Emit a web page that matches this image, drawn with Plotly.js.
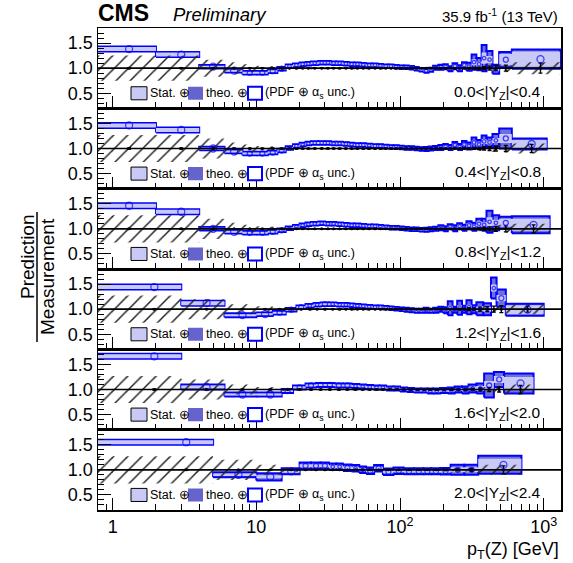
<!DOCTYPE html>
<html><head><meta charset="utf-8">
<script src="https://cdn.plot.ly/plotly-3.0.1.min.js"></script>
<style>html,body{margin:0;padding:0;background:#fff}#chart{width:573px;height:563px}</style>
</head><body><div id="chart"></div>
<script>
// ---------------- DATA ----------------
const panelLabels = ['0.0<|Y<sub>Z</sub>|<0.4','0.4<|Y<sub>Z</sub>|<0.8','0.8<|Y<sub>Z</sub>|<1.2','1.2<|Y<sub>Z</sub>|<1.6','1.6<|Y<sub>Z</sub>|<2.0','2.0<|Y<sub>Z</sub>|<2.4'];
const xTickVals = [1,10,100,1000];
const xTickText = ['1','10','10<sup>2</sup>','10<sup>3</sup>'];
const yTickVals = [0.5,1.0,1.5];
const yTickText = ['0.5','1.0','1.5'];

// panel 1: 0.0<|Y|<0.4
const edges1 = [0,2,4,6,8,10,12,14,16,18,20,22,24,27,30,33,36,40,44,48,53,58,64,70,76,83,90,98,106,115,125,135,146,158,170,185,200,215,232,250,270,290,315,340,370,400,440,490,600,1300];
const pred1 = [1.38,1.27,1.03,0.95,0.91,0.91,0.94,0.99,1.04,1.06, 1.08,1.09,1.10,1.11,1.11,1.10,1.10,1.09,1.08,1.08, 1.07,1.06,1.06,1.05,1.04,1.04,1.03,1.02,1.02,1.01, 0.99,0.97,0.95,0.97,1.01,1.02,1.03,0.99,1.04,1.00, 1.06,1.03,1.12,1.08,1.20,1.17,0.98,1.17,1.18];
const tot1 = [0.05,0.05,0.035,0.035,0.035,0.035,0.035,0.035,0.035,0.035, 0.035,0.035,0.035,0.035,0.035,0.035,0.035,0.035,0.035,0.035, 0.035,0.035,0.035,0.035,0.035,0.035,0.035,0.035,0.035,0.035, 0.035,0.035,0.04,0.04,0.04,0.05,0.05,0.05,0.06,0.06, 0.06,0.08,0.15,0.12,0.26,0.17,0.09,0.15,0.19];
const stat1 = [0.04,0.04,0.02,0.02,0.02,0.02,0.02,0.02,0.02,0.02, 0.02,0.02,0.02,0.02,0.02,0.02,0.02,0.02,0.02,0.02, 0.02,0.02,0.02,0.02,0.02,0.02,0.02,0.02,0.02,0.02, 0.02,0.02,0.02,0.02,0.02,0.025,0.025,0.025,0.03,0.03, 0.03,0.04,0.06,0.05,0.11,0.07,0.04,0.11,0.15];
const meas1 = [0.25,0.25,0.17,0.12,0.08,0.05,0.04,0.03,0.02,0.015, 0.012,0.01,0.01,0.01,0.01,0.01,0.01,0.01,0.01,0.01, 0.01,0.01,0.01,0.01,0.01,0.01,0.01,0.01,0.012,0.012, 0.012,0.014,0.015,0.015,0.017,0.02,0.02,0.022,0.025,0.028, 0.03,0.035,0.04,0.045,0.05,0.06,0.07,0.08,0.12];
const dstat1 = [0.01,0.01,0.005,0.005,0.005,0.005,0.005,0.005,0.005,0.005, 0.005,0.005,0.005,0.005,0.005,0.005,0.005,0.005,0.005,0.005, 0.005,0.005,0.005,0.005,0.005,0.005,0.005,0.005,0.005,0.005, 0.005,0.005,0.005,0.005,0.005,0.005,0.005,0.005,0.005,0.005, 0.01,0.01,0.015,0.02,0.03,0.04,0.05,0.06,0.1];

// panel 2: 0.4<|Y|<0.8
const edges2 = [0,2,4,6,8,10,12,14,16,18,20,22,24,27,30,33,36,40,44,48,53,58,64,70,76,83,90,98,106,115,125,135,146,158,170,185,200,215,232,250,270,290,315,340,370,400,440,490,600,1050];
const pred2 = [1.46,1.37,1.00,0.94,0.90,0.90,0.92,0.96,1.01,1.05, 1.08,1.10,1.11,1.11,1.11,1.10,1.10,1.09,1.08,1.07, 1.07,1.06,1.05,1.05,1.04,1.03,1.03,1.02,1.01,1.01, 1.00,0.99,0.99,1.00,1.01,1.02,1.04,1.02,1.07,1.03, 1.08,1.05,1.12,1.08,1.14,1.12,1.16,1.20,1.09];
const tot2 = [0.05,0.05,0.035,0.035,0.035,0.035,0.035,0.035,0.035,0.035, 0.035,0.035,0.035,0.035,0.035,0.035,0.035,0.035,0.035,0.035, 0.035,0.035,0.035,0.035,0.035,0.035,0.035,0.035,0.035,0.035, 0.035,0.035,0.04,0.04,0.04,0.05,0.05,0.05,0.06,0.06, 0.07,0.07,0.1,0.09,0.12,0.1,0.13,0.2,0.11];
const stat2 = [0.04,0.04,0.02,0.02,0.02,0.02,0.02,0.02,0.02,0.02, 0.02,0.02,0.02,0.02,0.02,0.02,0.02,0.02,0.02,0.02, 0.02,0.02,0.02,0.02,0.02,0.02,0.02,0.02,0.02,0.02, 0.02,0.02,0.02,0.02,0.02,0.025,0.025,0.025,0.03,0.03, 0.03,0.03,0.04,0.04,0.05,0.04,0.05,0.09,0.08];
const meas2 = [0.27,0.27,0.2,0.12,0.08,0.05,0.04,0.03,0.02,0.015, 0.012,0.01,0.01,0.01,0.01,0.01,0.01,0.01,0.01,0.01, 0.01,0.01,0.01,0.01,0.01,0.01,0.01,0.01,0.012,0.012, 0.012,0.014,0.015,0.015,0.017,0.02,0.02,0.022,0.025,0.028, 0.03,0.035,0.04,0.045,0.05,0.06,0.07,0.08,0.1];
const dstat2 = [0.01,0.01,0.005,0.005,0.005,0.005,0.005,0.005,0.005,0.005, 0.005,0.005,0.005,0.005,0.005,0.005,0.005,0.005,0.005,0.005, 0.005,0.005,0.005,0.005,0.005,0.005,0.005,0.005,0.005,0.005, 0.005,0.005,0.005,0.005,0.005,0.005,0.005,0.005,0.005,0.005, 0.01,0.01,0.015,0.02,0.03,0.04,0.05,0.06,0.08];

// panel 3: 0.8<|Y|<1.2
const edges3 = [0,2,4,6,8,10,12,14,16,18,20,22,24,27,30,33,36,40,44,48,53,58,64,70,76,83,90,98,106,115,125,135,146,158,170,185,200,215,232,250,270,290,315,340,370,400,440,490,600,1100];
const pred3 = [1.46,1.34,1.00,0.94,0.92,0.92,0.94,0.97,1.01,1.04, 1.07,1.09,1.10,1.11,1.10,1.10,1.09,1.08,1.07,1.07, 1.06,1.05,1.05,1.04,1.03,1.02,1.02,1.01,1.00,0.99, 0.99,0.98,0.98,0.99,1.00,1.02,1.00,1.04,1.01,1.05, 1.02,1.07,1.04,1.10,1.08,1.14,1.12,1.12,1.08];
const tot3 = [0.05,0.05,0.035,0.035,0.035,0.035,0.035,0.035,0.035,0.035, 0.035,0.035,0.035,0.035,0.035,0.035,0.035,0.035,0.035,0.035, 0.035,0.035,0.035,0.035,0.035,0.035,0.035,0.035,0.035,0.035, 0.035,0.035,0.04,0.04,0.04,0.05,0.05,0.05,0.06,0.06, 0.06,0.08,0.08,0.1,0.12,0.22,0.15,0.12,0.17];
const stat3 = [0.04,0.04,0.02,0.02,0.02,0.02,0.02,0.02,0.02,0.02, 0.02,0.02,0.02,0.02,0.02,0.02,0.02,0.02,0.02,0.02, 0.02,0.02,0.02,0.02,0.02,0.02,0.02,0.02,0.02,0.02, 0.02,0.02,0.02,0.02,0.02,0.025,0.025,0.025,0.03,0.03, 0.03,0.04,0.04,0.05,0.05,0.09,0.06,0.08,0.12];
const meas3 = [0.27,0.27,0.2,0.12,0.08,0.05,0.04,0.03,0.02,0.015, 0.012,0.01,0.01,0.01,0.01,0.01,0.01,0.01,0.01,0.01, 0.01,0.01,0.01,0.01,0.01,0.01,0.01,0.01,0.012,0.012, 0.012,0.014,0.015,0.015,0.017,0.02,0.02,0.022,0.025,0.028, 0.03,0.035,0.04,0.045,0.05,0.06,0.07,0.08,0.1];
const dstat3 = [0.01,0.01,0.005,0.005,0.005,0.005,0.005,0.005,0.005,0.005, 0.005,0.005,0.005,0.005,0.005,0.005,0.005,0.005,0.005,0.005, 0.005,0.005,0.005,0.005,0.005,0.005,0.005,0.005,0.005,0.005, 0.005,0.005,0.005,0.005,0.005,0.005,0.005,0.005,0.005,0.005, 0.01,0.01,0.015,0.02,0.03,0.04,0.05,0.06,0.08];

// panel 4: 1.2<|Y|<1.6
const edges4 = [0,3,6,10,13,16,19,22,25,28,32,36,40,44,48,53,58,64,70,76,83,90,98,106,115,125,135,146,158,170,185,200,215,232,250,270,290,315,340,380,430,470,545,1000];
const pred4 = [1.44,1.12,0.88,0.90,0.93,0.99,1.04,1.07,1.09,1.10, 1.10,1.09,1.09,1.08,1.07,1.06,1.05,1.04,1.04,1.03, 1.02,1.01,1.00,0.99,0.98,0.97,0.97,0.98,0.97,0.98, 1.00,0.98,1.02,0.99,1.03,1.00,1.04,1.00,1.01,1.00, 1.42,1.22,0.99];
const tot4 = [0.05,0.05,0.04,0.035,0.035,0.035,0.035,0.035,0.035,0.035, 0.035,0.035,0.035,0.035,0.035,0.035,0.035,0.035,0.035,0.035, 0.035,0.035,0.035,0.04,0.04,0.04,0.04,0.05,0.04,0.05, 0.05,0.06,0.14,0.06,0.14,0.07,0.14,0.08,0.13,0.12, 0.21,0.17,0.12];
const stat4 = [0.04,0.04,0.02,0.02,0.02,0.02,0.02,0.02,0.02,0.02, 0.02,0.02,0.02,0.02,0.02,0.02,0.02,0.02,0.02,0.02, 0.02,0.02,0.02,0.02,0.02,0.02,0.02,0.025,0.02,0.025, 0.025,0.03,0.05,0.03,0.05,0.03,0.05,0.04,0.05,0.05, 0.07,0.06,0.09];
const meas4 = [0.27,0.2,0.1,0.06,0.04,0.025,0.015,0.012,0.01,0.01, 0.01,0.01,0.01,0.01,0.01,0.01,0.01,0.01,0.01,0.01, 0.01,0.01,0.012,0.012,0.012,0.014,0.015,0.015,0.017,0.02, 0.02,0.022,0.025,0.028,0.03,0.035,0.04,0.045,0.05,0.06, 0.07,0.08,0.1];
const dstat4 = [0.01,0.005,0.005,0.005,0.005,0.005,0.005,0.005,0.005,0.005, 0.005,0.005,0.005,0.005,0.005,0.005,0.005,0.005,0.005,0.005, 0.005,0.005,0.005,0.005,0.005,0.005,0.005,0.005,0.005,0.005, 0.005,0.005,0.01,0.01,0.015,0.02,0.03,0.03,0.04,0.05, 0.06,0.07,0.06];

// panel 5: 1.6<|Y|<2.0
const edges5 = [0,3,6,10,15,18,22,26,30,35,40,46,52,58,65,72,80,90,100,112,125,140,155,170,190,215,240,270,300,340,385,450,530,850];
const pred5 = [1.66,1.05,0.90,0.90,0.97,1.04,1.08,1.09,1.09,1.08, 1.08,1.07,1.06,1.05,1.04,1.04,1.02,1.02,1.00,0.99, 0.98,0.98,0.97,0.97,0.98,0.98,1.00,0.99,1.02,1.02, 1.08,1.20,1.12];
const tot5 = [0.05,0.05,0.04,0.04,0.04,0.04,0.04,0.04,0.04,0.04, 0.04,0.04,0.04,0.04,0.04,0.04,0.04,0.04,0.04,0.04, 0.04,0.04,0.05,0.05,0.05,0.06,0.06,0.07,0.08,0.1, 0.24,0.15,0.2];
const stat5 = [0.04,0.03,0.02,0.02,0.02,0.02,0.02,0.02,0.02,0.02, 0.02,0.02,0.02,0.02,0.02,0.02,0.02,0.02,0.02,0.02, 0.02,0.02,0.025,0.025,0.025,0.03,0.03,0.03,0.04,0.05, 0.09,0.07,0.13];
const meas5 = [0.27,0.2,0.1,0.05,0.03,0.02,0.012,0.01,0.01,0.01, 0.01,0.01,0.01,0.01,0.01,0.01,0.01,0.012,0.012,0.014, 0.015,0.015,0.017,0.02,0.02,0.022,0.025,0.03,0.035,0.04, 0.05,0.07,0.1];
const dstat5 = [0.01,0.005,0.005,0.005,0.005,0.005,0.005,0.005,0.005,0.005, 0.005,0.005,0.005,0.005,0.005,0.005,0.005,0.005,0.005,0.005, 0.005,0.005,0.005,0.01,0.01,0.01,0.015,0.02,0.02,0.03, 0.04,0.05,0.08];

// panel 6: 2.0<|Y|<2.4
const edges6 = [0,5,10,15,20,24,28,32,36,40,46,52,58,66,76,90,106,125,145,165,190,225,280,350,700];
const pred6 = [1.55,0.90,0.86,0.97,1.08,1.08,1.08,1.06,1.06,1.04,1.03,1.00,0.98,1.03,0.96,0.98,0.97,0.97,0.97,0.97,0.97,1.00,1.00,1.10];
const tot6 = [0.05,0.05,0.07,0.06,0.065,0.065,0.065,0.065,0.065,0.065,0.065,0.065,0.065,0.065,0.065,0.065,0.06,0.06,0.06,0.06,0.065,0.1,0.1,0.18];
const stat6 = [0.04,0.025,0.03,0.03,0.03,0.03,0.03,0.03,0.03,0.03,0.03,0.03,0.03,0.03,0.03,0.03,0.03,0.03,0.03,0.03,0.03,0.05,0.05,0.12];
const meas6 = [0.27,0.2,0.1,0.04,0.02,0.015,0.012,0.01,0.01,0.01,0.01,0.01,0.012,0.012,0.014,0.015,0.015,0.017,0.02,0.022,0.025,0.03,0.04,0.1];
const dstat6 = [0.01,0.005,0.005,0.005,0.005,0.005,0.005,0.005,0.005,0.005,0.005,0.005,0.005,0.005,0.005,0.005,0.005,0.01,0.01,0.01,0.015,0.02,0.03,0.08];

const panels = [
  {edges: edges1, pred: pred1, tot: tot1, stat: stat1, meas: meas1, dstat: dstat1},
  {edges: edges2, pred: pred2, tot: tot2, stat: stat2, meas: meas2, dstat: dstat2},
  {edges: edges3, pred: pred3, tot: tot3, stat: stat3, meas: meas3, dstat: dstat3},
  {edges: edges4, pred: pred4, tot: tot4, stat: stat4, meas: meas4, dstat: dstat4},
  {edges: edges5, pred: pred5, tot: tot5, stat: stat5, meas: meas5, dstat: dstat5},
  {edges: edges6, pred: pred6, tot: tot6, stat: stat6, meas: meas6, dstat: dstat6}
];

// ---------------- DRAWING ----------------
const W = 573, H = 563, L = 98, R = 561, T = 28, B = 510;
const px = x => (x - L) / (R - L);
const py = y => 1 - (y - T) / (B - T);
const FONT = 'Liberation Sans, Arial, Helvetica, sans-serif';
const lo = e => (e === 0 ? 0.5 : e);

const BLUE = '#0000ff', DARK = '#7070d6', LIGHT = '#c9c9f6';
const xmin = Math.log10(0.79), xmax = Math.log10(1320);
const pxPerDecade = (R - L) / (xmax - xmin);

function rects(edges, c, h) {
  const xs = [], ys = [];
  for (let j = 0; j < c.length; j++) {
    const x0 = lo(edges[j]), x1 = edges[j + 1];
    xs.push(x0, x1, x1, x0, x0, null);
    ys.push(c[j] - h[j], c[j] - h[j], c[j] + h[j], c[j] + h[j], c[j] - h[j], null);
  }
  return {xs, ys};
}
function band(edges, m) {
  const xs = [], ys = [];
  for (let j = 0; j < m.length; j++) { xs.push(lo(edges[j]), edges[j + 1]); ys.push(1 + m[j], 1 + m[j]); }
  for (let j = m.length - 1; j >= 0; j--) { xs.push(edges[j + 1], lo(edges[j])); ys.push(1 - m[j], 1 - m[j]); }
  xs.push(xs[0]); ys.push(ys[0]);
  return {xs, ys};
}
function centers(edges, n) {
  const out = [];
  for (let j = 0; j < n; j++) out.push(edges[j] === 0 ? edges[j + 1] * 0.65 : (edges[j] + edges[j + 1]) / 2);
  return out;
}
function markerSizes(edges, n) {
  const out = [];
  for (let j = 0; j < n; j++) {
    const w = edges[j] === 0 ? 99 : pxPerDecade * Math.log10(edges[j + 1] / edges[j]);
    out.push(w > 14 ? 7 : (w > 8 ? 5 : 3.5));
  }
  return out;
}

const traces = [];
const layout = {
  width: W, height: H,
  margin: {l: L, r: W - R, t: T, b: H - B},
  paper_bgcolor: '#fff', plot_bgcolor: '#fff',
  showlegend: false,
  font: {family: FONT, color: '#000'},
  shapes: [], annotations: []
};
const minorX = [0.8,0.9,2,3,4,5,6,7,8,9,20,30,40,50,60,70,80,90,200,300,400,500,600,700,800,900];

panels.forEach((p, i) => {
  const k = i + 1;
  const xa = 'x' + k, ya = 'y' + k;
  const o = rects(p.edges, p.pred, p.tot);
  const s = rects(p.edges, p.pred, p.stat);
  const b = band(p.edges, p.meas);
  const xc = centers(p.edges, p.pred.length);
  const ms = markerSizes(p.edges, p.pred.length);
  const ones = p.pred.map(() => 1);
  traces.push({type: 'scatter', mode: 'lines', x: o.xs, y: o.ys, xaxis: xa, yaxis: ya, fill: 'toself',
    fillcolor: DARK, line: {color: BLUE, width: 2}, hoverinfo: 'skip', connectgaps: false});
  traces.push({type: 'scatter', mode: 'lines', x: s.xs, y: s.ys, xaxis: xa, yaxis: ya, fill: 'toself',
    fillcolor: LIGHT, line: {width: 0, color: LIGHT}, hoverinfo: 'skip', connectgaps: false});
  traces.push({type: 'scatter', mode: 'lines', x: b.xs, y: b.ys, xaxis: xa, yaxis: ya, fill: 'toself',
    fillcolor: 'rgba(0,0,0,0)', line: {width: 0, color: 'rgba(0,0,0,0)'},
    fillpattern: {shape: '/', fgcolor: '#222', bgcolor: 'rgba(0,0,0,0)', size: 10, solidity: 0.15},
    hoverinfo: 'skip'});
  traces.push({type: 'scatter', mode: 'markers', x: xc, y: ones, xaxis: xa, yaxis: ya,
    marker: {color: '#000', size: 3},
    error_y: {type: 'data', array: p.dstat, visible: true, color: '#000', thickness: 1.3, width: 2},
    hoverinfo: 'skip'});
  traces.push({type: 'scatter', mode: 'markers', x: xc, y: p.pred, xaxis: xa, yaxis: ya,
    marker: {symbol: 'circle-open', color: BLUE, size: ms, line: {width: 1.3, color: BLUE}},
    hoverinfo: 'skip'});

  const d0 = 1 - k / 6, d1 = 1 - (k - 1) / 6;
  layout['xaxis' + k] = {
    type: 'log', range: [xmin, xmax], anchor: ya, domain: [0, 1],
    tickvals: xTickVals, ticktext: xTickText, showticklabels: k === 6,
    ticks: 'inside', ticklen: 12, tickwidth: 1, tickcolor: '#000',
    minor: {ticks: 'inside', ticklen: 6, tickwidth: 1, tickcolor: '#000', tickmode: 'array', tickvals: minorX},
    showgrid: false, zeroline: false, showline: true, linecolor: '#000', linewidth: 1.5, mirror: true,
    tickfont: {family: FONT, size: 18, color: '#000'}
  };
  layout['yaxis' + k] = {
    range: [0.2, 1.8], anchor: xa, domain: [d0, d1],
    tickvals: yTickVals, ticktext: yTickText,
    ticks: 'inside', ticklen: 13, tickwidth: 1, tickcolor: '#000',
    minor: {ticks: 'inside', ticklen: 6, tickwidth: 1, tickcolor: '#000', dtick: 0.1, tick0: 0},
    showgrid: false, zeroline: false, showline: true, linecolor: '#000', linewidth: 1.5, mirror: true,
    tickfont: {family: FONT, size: 18, color: '#000'}
  };
  layout.shapes.push({type: 'line', xref: 'paper', yref: ya, x0: 0, x1: 1, y0: 1, y1: 1,
    line: {color: '#000', width: 1.6}, layer: 'above'});
  layout.shapes.push({type: 'rect', xref: 'paper', yref: ya, x0: px(131), x1: px(147), y0: 0.37, y1: 0.63,
    fillcolor: LIGHT, line: {color: '#000', width: 1}});
  layout.shapes.push({type: 'rect', xref: 'paper', yref: ya, x0: px(188), x1: px(203), y0: 0.37, y1: 0.63,
    fillcolor: '#6464cc', line: {width: 0}});
  layout.shapes.push({type: 'rect', xref: 'paper', yref: ya, x0: px(248), x1: px(262), y0: 0.37, y1: 0.63,
    fillcolor: '#fff', line: {color: BLUE, width: 2}});
  const lf = {family: FONT, size: 12.5, color: '#000'};
  layout.annotations.push({xref: 'paper', yref: ya, x: px(148), y: 0.5, xanchor: 'left', yanchor: 'middle',
    text: 'Stat. ⊕', showarrow: false, font: lf});
  layout.annotations.push({xref: 'paper', yref: ya, x: px(204), y: 0.5, xanchor: 'left', yanchor: 'middle',
    text: 'theo. ⊕', showarrow: false, font: lf});
  layout.annotations.push({xref: 'paper', yref: ya, x: px(263), y: 0.5, xanchor: 'left', yanchor: 'middle',
    text: '(PDF ⊕ α<sub>s</sub> unc.)', showarrow: false, font: lf});
  layout.annotations.push({xref: 'paper', yref: ya, x: px(543), y: 0.52, xanchor: 'right', yanchor: 'middle',
    text: panelLabels[i], showarrow: false, font: {family: FONT, size: 15.5, color: '#000'}});
});

// titles
layout.annotations.push({xref: 'paper', yref: 'paper', x: px(96), y: py(13), xanchor: 'left', yanchor: 'middle',
  text: '<b>CMS</b>', showarrow: false, font: {family: FONT, size: 23, color: '#000'}});
layout.annotations.push({xref: 'paper', yref: 'paper', x: px(171), y: py(14), xanchor: 'left', yanchor: 'middle',
  text: '<i>Preliminary</i>', showarrow: false, font: {family: FONT, size: 18.5, color: '#000'}});
layout.annotations.push({xref: 'paper', yref: 'paper', x: px(560), y: py(15), xanchor: 'right', yanchor: 'middle',
  text: '35.9 fb<sup>-1</sup> (13 TeV)', showarrow: false, font: {family: FONT, size: 15, color: '#000'}});
layout.annotations.push({xref: 'paper', yref: 'paper', x: px(561), y: py(550), xanchor: 'right', yanchor: 'middle',
  text: 'p<sub>T</sub>(Z) [GeV]', showarrow: false, font: {family: FONT, size: 18, color: '#000'}});
layout.annotations.push({xref: 'paper', yref: 'paper', x: px(27), y: py(257), xanchor: 'center', yanchor: 'middle',
  text: 'Prediction', textangle: -90, showarrow: false, font: {family: FONT, size: 19, color: '#000'}});
layout.annotations.push({xref: 'paper', yref: 'paper', x: px(47), y: py(277), xanchor: 'center', yanchor: 'middle',
  text: 'Measurement', textangle: -90, showarrow: false, font: {family: FONT, size: 19, color: '#000'}});
layout.shapes.push({type: 'line', xref: 'paper', yref: 'paper', x0: px(37), x1: px(37), y0: py(212), y1: py(342),
  line: {color: '#000', width: 1.5}});

Plotly.newPlot('chart', traces, layout, {staticPlot: true, displayModeBar: false});
</script>
</body></html>
